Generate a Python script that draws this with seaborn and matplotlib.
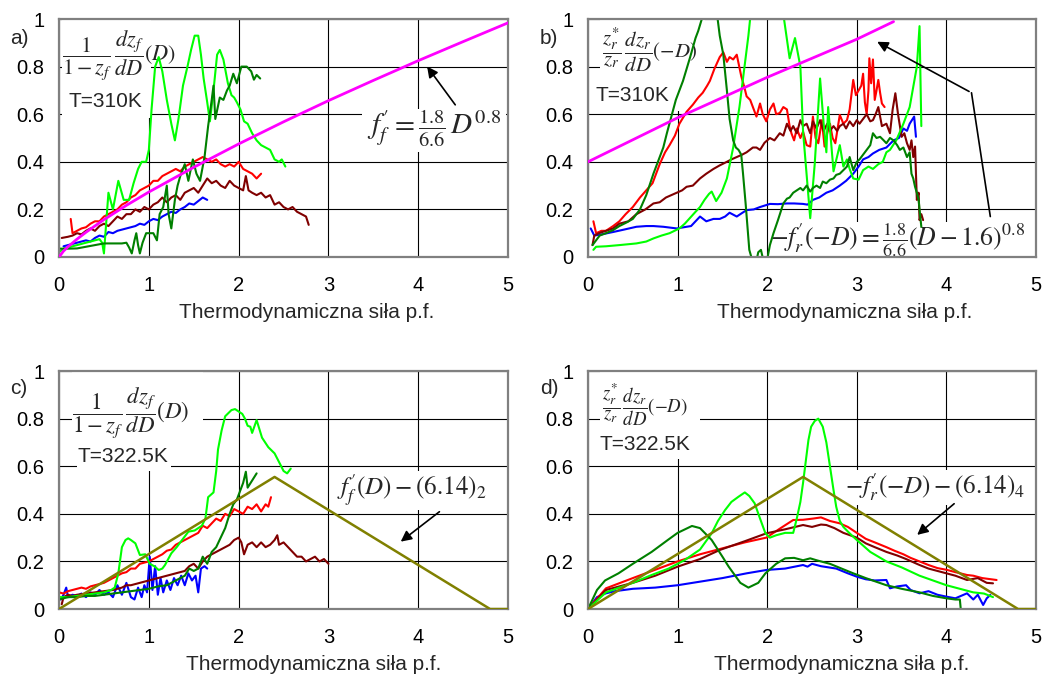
import matplotlib
matplotlib.use("Agg")
import matplotlib.pyplot as plt
from matplotlib.patches import Rectangle
import seaborn as sns

# ---------------- data: panel a (T=310K, forward) ----------------
a_blue_x = [0.05,0.1,0.15,0.2,0.25,0.3,0.35,0.4,0.45,0.5,0.55,0.6,0.65,0.7,0.75,0.8,0.85,0.9,0.95,1.0,1.05,1.1,1.15,1.2,1.25,1.3,1.35,1.4,1.45,1.5,1.55,1.6,1.65]
a_blue_y = [0.045,0.05,0.055,0.06,0.065,0.07,0.065,0.08,0.09,0.085,0.105,0.10,0.11,0.115,0.12,0.125,0.13,0.14,0.135,0.15,0.16,0.155,0.17,0.18,0.19,0.185,0.20,0.21,0.225,0.22,0.235,0.25,0.24]

a_red_x = [0.13,0.15,0.2,0.25,0.3,0.35,0.4,0.45,0.5,0.55,0.6,0.65,0.7,0.75,0.8,0.85,0.9,0.95,1.0,1.05,1.1,1.15,1.2,1.25,1.3,1.35,1.4,1.45,1.5,1.55,1.6,1.65,1.7,1.75,1.8,1.85,1.9,1.95,2.0,2.05,2.1,2.15,2.2,2.25]
a_red_y = [0.16,0.10,0.11,0.12,0.125,0.14,0.15,0.15,0.17,0.18,0.19,0.20,0.22,0.23,0.25,0.26,0.28,0.29,0.30,0.32,0.32,0.34,0.35,0.36,0.37,0.36,0.38,0.39,0.40,0.41,0.42,0.41,0.40,0.41,0.39,0.38,0.39,0.38,0.40,0.37,0.36,0.35,0.33,0.35]

a_maroon_x = [0.03,0.1,0.15,0.2,0.25,0.3,0.35,0.4,0.45,0.5,0.55,0.6,0.65,0.7,0.75,0.8,0.85,0.9,0.95,1.0,1.05,1.1,1.15,1.2,1.25,1.3,1.35,1.4,1.45,1.5,1.55,1.6,1.65,1.7,1.75,1.8,1.85,1.9,1.95,2.0,2.05,2.08,2.11,2.15,2.2,2.25,2.3,2.35,2.4,2.45,2.5,2.55,2.6,2.65,2.7,2.75,2.78]
a_maroon_y = [0.08,0.085,0.09,0.10,0.095,0.11,0.12,0.11,0.13,0.14,0.13,0.15,0.17,0.16,0.18,0.18,0.20,0.19,0.21,0.20,0.22,0.23,0.25,0.23,0.25,0.26,0.24,0.27,0.28,0.29,0.27,0.30,0.33,0.31,0.32,0.30,0.29,0.32,0.30,0.29,0.28,0.34,0.28,0.27,0.26,0.27,0.25,0.26,0.22,0.23,0.21,0.20,0.21,0.19,0.18,0.17,0.135]

a_green_x = [0.0,0.05,0.1,0.2,0.3,0.4,0.45,0.48,0.5,0.55,0.6,0.66,0.72,0.78,0.83,0.88,0.92,0.97,1.0,1.03,1.07,1.11,1.15,1.2,1.25,1.29,1.33,1.38,1.43,1.47,1.51,1.55,1.58,1.61,1.65,1.68,1.72,1.76,1.79,1.83,1.88,1.92,1.95,1.98,2.02,2.06,2.1,2.15,2.2,2.25,2.3,2.35,2.4,2.45,2.48,2.52]
a_green_y = [0.02,0.035,0.04,0.05,0.06,0.07,0.075,0.06,0.015,0.27,0.20,0.32,0.24,0.24,0.31,0.37,0.40,0.40,0.45,0.62,0.80,0.84,0.78,0.66,0.56,0.49,0.58,0.72,0.80,0.87,0.93,0.93,0.85,0.75,0.65,0.57,0.70,0.85,0.87,0.83,0.73,0.68,0.67,0.65,0.62,0.57,0.56,0.52,0.49,0.47,0.46,0.45,0.41,0.40,0.41,0.38]

a_dkgreen_x = [0.0,0.1,0.2,0.3,0.4,0.5,0.6,0.7,0.75,0.78,0.81,0.84,0.86,0.88,0.9,0.93,0.97,1.0,1.05,1.09,1.12,1.16,1.2,1.22,1.25,1.29,1.32,1.35,1.4,1.44,1.49,1.53,1.57,1.62,1.66,1.7,1.72,1.74,1.79,1.83,1.87,1.9,1.94,1.98,2.03,2.09,2.14,2.17,2.2,2.24]
a_dkgreen_y = [0.035,0.035,0.036,0.043,0.05,0.057,0.057,0.057,0.06,0.04,0.015,0.07,0.10,0.05,0.015,0.06,0.10,0.10,0.10,0.07,0.18,0.21,0.30,0.18,0.12,0.24,0.30,0.34,0.39,0.32,0.41,0.35,0.32,0.42,0.55,0.66,0.72,0.58,0.67,0.66,0.70,0.72,0.77,0.73,0.80,0.80,0.78,0.745,0.765,0.75]

a_ref_x = [0.0,0.05,0.1,0.2,0.3,0.5,0.75,1.0,1.5,2.0,2.5,3.0,3.5,4.0,4.5,5.0]
a_ref_y = [0.0,0.025,0.043,0.075,0.104,0.157,0.217,0.273,0.377,0.475,0.568,0.657,0.742,0.825,0.905,0.984]

# ---------------- data: panel b (T=310K, reverse) ----------------
b_blue_x = [0.03,0.07,0.15,0.28,0.4,0.54,0.65,0.73,0.84,0.99,1.1,1.15,1.2,1.25,1.32,1.4,1.47,1.53,1.58,1.66,1.72,1.77,1.85,1.92,2.03,2.12,2.22,2.3,2.4,2.45,2.51,2.58,2.66,2.73,2.81,2.88,2.96,3.02,3.07,3.13,3.18,3.25,3.33,3.41,3.47,3.52,3.56,3.59,3.64,3.66]
b_blue_y = [0.12,0.09,0.095,0.105,0.115,0.127,0.13,0.13,0.127,0.12,0.127,0.13,0.15,0.17,0.15,0.16,0.16,0.17,0.186,0.17,0.185,0.197,0.20,0.21,0.223,0.222,0.225,0.225,0.223,0.22,0.24,0.25,0.27,0.28,0.30,0.32,0.35,0.38,0.41,0.42,0.435,0.45,0.46,0.49,0.50,0.54,0.53,0.56,0.59,0.505]

b_red_x = [0.06,0.09,0.15,0.2,0.28,0.35,0.42,0.5,0.58,0.65,0.72,0.8,0.86,0.91,0.97,1.02,1.1,1.17,1.23,1.28,1.33,1.36,1.41,1.47,1.51,1.55,1.58,1.62,1.66,1.71,1.74,1.77,1.81,1.84,1.88,1.92,1.95,1.99,2.03,2.07,2.1,2.14,2.18,2.22,2.25,2.27,2.3,2.33,2.37,2.4,2.44,2.48,2.51,2.54,2.57,2.61,2.64,2.67,2.7,2.73,2.76,2.79,2.81,2.85,2.89,2.92,2.96,2.99,3.02,3.05,3.07,3.09,3.11,3.13,3.14,3.16,3.18,3.2,3.22,3.24,3.26,3.28,3.31]
b_red_y = [0.15,0.10,0.11,0.11,0.13,0.15,0.18,0.21,0.25,0.28,0.31,0.39,0.44,0.47,0.51,0.56,0.61,0.64,0.67,0.69,0.72,0.74,0.79,0.84,0.86,0.82,0.84,0.83,0.85,0.76,0.72,0.675,0.66,0.63,0.59,0.645,0.60,0.57,0.62,0.645,0.60,0.605,0.63,0.62,0.55,0.52,0.49,0.54,0.50,0.527,0.47,0.464,0.59,0.50,0.478,0.575,0.464,0.52,0.56,0.50,0.478,0.55,0.597,0.56,0.575,0.62,0.744,0.68,0.70,0.72,0.77,0.65,0.60,0.70,0.835,0.73,0.83,0.66,0.70,0.744,0.69,0.645,0.63]

b_maroon_x = [0.05,0.07,0.12,0.2,0.28,0.35,0.45,0.54,0.64,0.73,0.8,0.87,0.93,0.99,1.05,1.1,1.17,1.25,1.32,1.4,1.47,1.55,1.6,1.66,1.72,1.77,1.84,1.88,1.92,1.97,2.03,2.08,2.14,2.18,2.22,2.26,2.29,2.33,2.37,2.4,2.44,2.48,2.51,2.55,2.59,2.63,2.67,2.7,2.74,2.78,2.81,2.85,2.88,2.92,2.96,3.0,3.03,3.07,3.11,3.15,3.18,3.21,3.24,3.28,3.33,3.37,3.4,3.43,3.46,3.5,3.53,3.56,3.59,3.61,3.63,3.65,3.67,3.69,3.7,3.72,3.74]
b_maroon_y = [0.05,0.09,0.10,0.11,0.12,0.14,0.15,0.18,0.20,0.225,0.23,0.25,0.26,0.27,0.28,0.295,0.30,0.33,0.35,0.37,0.385,0.40,0.41,0.42,0.43,0.44,0.46,0.46,0.45,0.48,0.50,0.49,0.52,0.51,0.56,0.53,0.55,0.52,0.575,0.55,0.56,0.52,0.57,0.54,0.575,0.53,0.56,0.53,0.55,0.53,0.55,0.56,0.54,0.57,0.55,0.575,0.56,0.58,0.60,0.57,0.575,0.60,0.63,0.55,0.56,0.52,0.62,0.688,0.60,0.505,0.52,0.478,0.45,0.49,0.42,0.464,0.24,0.27,0.155,0.18,0.155]

b_green_x = [0.06,0.09,0.2,0.35,0.54,0.65,0.73,0.82,0.91,1.02,1.08,1.14,1.2,1.25,1.3,1.35,1.38,1.43,1.49,1.55,1.62,1.69,1.75,1.79,1.85,2.1,2.18,2.25,2.31,2.37,2.4,2.48,2.53,2.59,2.63,2.66,2.68,2.74,2.81,2.85,2.89,2.92,2.96,3.02,3.07,3.13,3.18,3.24,3.29,3.33,3.37,3.44,3.52,3.59,3.63,3.67,3.7,3.72]
b_green_y = [0.03,0.043,0.045,0.05,0.057,0.065,0.078,0.09,0.10,0.12,0.14,0.165,0.19,0.21,0.24,0.265,0.275,0.235,0.27,0.33,0.46,0.63,0.81,0.93,1.15,1.15,1.02,0.835,0.92,0.80,0.527,0.163,0.39,0.75,0.56,0.44,0.63,0.36,0.47,0.38,0.41,0.37,0.33,0.325,0.365,0.38,0.37,0.39,0.40,0.44,0.45,0.49,0.56,0.63,0.715,0.80,0.97,0.55]

b_dkgreen_x = [0.05,0.13,0.2,0.28,0.35,0.43,0.5,0.58,0.65,0.73,0.8,0.84,0.88,0.93,0.98,1.02,1.06,1.1,1.14,1.17,1.2,1.23,1.27,1.35,1.43,1.47,1.51,1.55,1.58,1.62,1.65,1.68,1.71,1.73,1.76,1.8,1.86,1.9,1.93,1.96,2.0,2.03,2.07,2.12,2.18,2.22,2.25,2.29,2.33,2.37,2.4,2.44,2.48,2.51,2.55,2.59,2.62,2.66,2.7,2.74,2.77,2.81,2.85,2.89,2.92,2.96,3.0,3.03,3.07,3.11,3.15,3.18,3.22,3.26,3.3,3.33,3.37,3.41,3.45,3.48,3.52,3.56,3.59,3.61,3.63,3.65,3.67,3.69,3.7,3.72]
b_dkgreen_y = [0.05,0.09,0.10,0.113,0.13,0.145,0.16,0.20,0.26,0.35,0.42,0.46,0.52,0.59,0.66,0.70,0.74,0.79,0.84,0.88,0.92,0.95,1.0,1.15,1.05,0.93,0.85,0.70,0.58,0.49,0.46,0.45,0.43,0.35,0.22,0.03,-0.05,0.02,0.03,-0.02,-0.01,0.05,0.10,0.155,0.225,0.245,0.25,0.27,0.28,0.29,0.28,0.30,0.275,0.29,0.30,0.29,0.317,0.31,0.325,0.33,0.345,0.35,0.365,0.38,0.42,0.365,0.40,0.41,0.43,0.45,0.47,0.52,0.50,0.505,0.49,0.478,0.50,0.49,0.47,0.45,0.46,0.42,0.44,0.35,0.33,0.295,0.27,0.24,0.2,0.127]

b_ref_x = [0.0,1.0,2.0,3.0,3.41]
b_ref_y = [0.40,0.585,0.755,0.915,0.989]

# ---------------- data: panel c (T=322.5K, forward) ----------------
c_blue_x = [0.02,0.05,0.08,0.1,0.15,0.2,0.25,0.3,0.35,0.4,0.45,0.5,0.55,0.6,0.65,0.7,0.75,0.8,0.84,0.88,0.92,0.95,0.98,1.01,1.04,1.07,1.1,1.13,1.16,1.2,1.24,1.28,1.32,1.36,1.4,1.44,1.48,1.52,1.55,1.58,1.62,1.65]
c_blue_y = [0.04,0.06,0.09,0.05,0.06,0.055,0.065,0.05,0.07,0.06,0.08,0.06,0.07,0.05,0.10,0.06,0.11,0.05,0.04,0.09,0.05,0.10,0.07,0.22,0.08,0.18,0.06,0.13,0.07,0.12,0.08,0.13,0.10,0.14,0.10,0.15,0.12,0.14,0.07,0.17,0.18,0.17]

c_red_x = [0.0,0.05,0.1,0.15,0.2,0.25,0.3,0.35,0.4,0.45,0.5,0.55,0.6,0.65,0.7,0.75,0.8,0.85,0.9,0.95,1.0,1.05,1.1,1.15,1.2,1.25,1.3,1.35,1.4,1.45,1.5,1.55,1.6,1.65,1.7,1.75,1.8,1.85,1.9,1.95,2.0,2.05,2.1,2.15,2.2,2.25,2.3,2.33,2.36]
c_red_y = [0.07,0.065,0.075,0.08,0.085,0.09,0.085,0.095,0.10,0.105,0.11,0.12,0.13,0.14,0.15,0.155,0.17,0.17,0.19,0.195,0.20,0.21,0.22,0.23,0.245,0.25,0.27,0.28,0.29,0.30,0.31,0.32,0.35,0.34,0.36,0.38,0.37,0.40,0.39,0.42,0.41,0.40,0.43,0.42,0.44,0.41,0.44,0.43,0.47]

c_maroon_x = [0.03,0.05,0.1,0.15,0.2,0.3,0.4,0.5,0.6,0.7,0.75,0.8,0.9,1.0,1.1,1.2,1.3,1.4,1.45,1.5,1.55,1.6,1.65,1.7,1.75,1.8,1.85,1.9,1.95,2.0,2.03,2.06,2.1,2.15,2.2,2.25,2.3,2.35,2.4,2.43,2.45,2.5,2.55,2.6,2.65,2.7,2.75,2.8,2.85,2.9,2.95,3.0]
c_maroon_y = [0.02,0.05,0.06,0.055,0.06,0.065,0.07,0.075,0.08,0.09,0.10,0.10,0.11,0.12,0.13,0.14,0.15,0.16,0.18,0.19,0.17,0.20,0.22,0.23,0.24,0.25,0.26,0.27,0.29,0.30,0.28,0.23,0.27,0.28,0.26,0.28,0.26,0.27,0.29,0.31,0.27,0.28,0.26,0.24,0.22,0.22,0.20,0.21,0.22,0.20,0.21,0.19]

c_green_x = [0.0,0.1,0.2,0.3,0.4,0.5,0.58,0.62,0.66,0.7,0.74,0.77,0.8,0.85,0.9,0.96,1.01,1.06,1.11,1.15,1.18,1.25,1.31,1.37,1.44,1.51,1.59,1.63,1.66,1.72,1.75,1.77,1.81,1.85,1.92,1.96,2.0,2.04,2.07,2.1,2.13,2.15,2.2,2.26,2.33,2.4,2.46,2.5,2.54,2.58]
c_green_y = [0.05,0.05,0.055,0.06,0.065,0.07,0.08,0.09,0.15,0.26,0.29,0.297,0.29,0.276,0.227,0.23,0.19,0.18,0.164,0.17,0.185,0.234,0.26,0.29,0.325,0.33,0.35,0.38,0.47,0.49,0.58,0.67,0.75,0.81,0.836,0.84,0.83,0.82,0.80,0.77,0.766,0.74,0.794,0.72,0.68,0.654,0.61,0.58,0.57,0.59]

c_dkgreen_x = [0.0,0.1,0.2,0.3,0.4,0.5,0.6,0.7,0.8,0.9,1.0,1.1,1.2,1.3,1.35,1.4,1.45,1.5,1.55,1.6,1.65,1.7,1.75,1.8,1.85,1.9,1.94,1.98,2.02,2.05,2.08,2.1,2.15,2.2]
c_dkgreen_y = [0.04,0.05,0.05,0.055,0.055,0.06,0.065,0.07,0.075,0.08,0.085,0.095,0.10,0.12,0.13,0.14,0.17,0.16,0.17,0.22,0.19,0.24,0.26,0.30,0.34,0.40,0.44,0.46,0.50,0.53,0.577,0.51,0.54,0.57]

c_ref_x = [0.0,2.4,4.8,5.0]
c_ref_y = [0.0,0.555,0.0,0.0]

# ---------------- data: panel d (T=322.5K, reverse) ----------------
d_blue_x = [0.0,0.1,0.2,0.3,0.5,0.75,1.0,1.25,1.5,1.77,1.99,2.2,2.4,2.45,2.5,2.6,2.77,2.9,3.0,3.1,3.2,3.33,3.37,3.45,3.55,3.6,3.7,3.8,3.9,4.0,4.1,4.23,4.3,4.35,4.41,4.45,4.49]
d_blue_y = [0.0,0.05,0.066,0.075,0.085,0.09,0.10,0.115,0.13,0.15,0.164,0.17,0.185,0.178,0.19,0.18,0.17,0.15,0.136,0.125,0.12,0.122,0.087,0.095,0.10,0.08,0.066,0.075,0.06,0.052,0.045,0.066,0.04,0.06,0.017,0.045,0.059]

d_red_x = [0.0,0.2,0.5,0.75,1.0,1.25,1.5,1.75,1.99,2.15,2.29,2.4,2.51,2.6,2.7,2.81,2.9,3.0,3.1,3.2,3.33,3.42,3.52,3.6,3.7,3.8,3.9,4.0,4.1,4.23,4.3,4.4,4.5,4.56]
d_red_y = [0.0,0.087,0.13,0.165,0.20,0.23,0.255,0.28,0.30,0.34,0.374,0.375,0.38,0.385,0.37,0.36,0.345,0.32,0.295,0.28,0.26,0.245,0.23,0.215,0.20,0.185,0.172,0.165,0.155,0.143,0.14,0.13,0.125,0.122]

d_maroon_x = [0.0,0.2,0.5,0.75,1.0,1.25,1.47,1.75,1.99,2.2,2.4,2.5,2.6,2.66,2.75,2.85,3.0,3.1,3.2,3.33,3.45,3.55,3.7,3.8,3.9,4.0,4.1,4.23,4.35,4.45,4.52]
d_maroon_y = [0.0,0.08,0.11,0.14,0.178,0.21,0.248,0.285,0.318,0.335,0.353,0.345,0.355,0.353,0.34,0.32,0.30,0.276,0.26,0.24,0.225,0.21,0.185,0.17,0.16,0.15,0.14,0.122,0.13,0.11,0.108]

d_green_x = [0.0,0.2,0.5,0.71,0.9,1.08,1.25,1.38,1.45,1.53,1.6,1.68,1.75,1.8,1.86,1.92,1.98,2.03,2.1,2.2,2.29,2.33,2.37,2.4,2.43,2.46,2.49,2.53,2.57,2.62,2.66,2.7,2.74,2.77,2.81,2.85,2.92,3.0,3.15,3.33,3.5,3.7,3.85,4.0,4.15,4.3,4.42,4.52]
d_green_y = [0.0,0.07,0.11,0.143,0.17,0.206,0.25,0.318,0.37,0.416,0.45,0.472,0.49,0.475,0.444,0.38,0.318,0.30,0.31,0.32,0.32,0.38,0.45,0.53,0.62,0.71,0.766,0.79,0.80,0.766,0.70,0.60,0.50,0.43,0.37,0.345,0.318,0.29,0.24,0.20,0.175,0.14,0.12,0.10,0.085,0.07,0.065,0.05]

d_dkgreen_x = [0.0,0.1,0.19,0.34,0.5,0.71,0.89,1.0,1.16,1.25,1.38,1.5,1.57,1.7,1.79,1.9,1.98,2.1,2.2,2.3,2.4,2.48,2.55,2.7,2.96,3.1,3.33,3.5,3.7,3.85,4.0,4.1,4.15,4.16]
d_dkgreen_y = [0.0,0.08,0.12,0.15,0.19,0.24,0.29,0.32,0.349,0.34,0.29,0.22,0.178,0.11,0.09,0.11,0.15,0.19,0.213,0.215,0.205,0.213,0.205,0.19,0.15,0.13,0.1,0.085,0.07,0.055,0.045,0.04,0.04,0.0]

d_ref_x = [0.0,2.4,4.8,5.0]
d_ref_y = [0.0,0.555,0.0,0.0]

x_ticks = [0, 1, 2, 3, 4, 5]
y_ticks = [0, 0.2, 0.4, 0.6, 0.8, 1]
y_tick_labels = ["0", "0.2", "0.4", "0.6", "0.8", "1"]
x_title = "Thermodynamiczna siła p.f."

colors = {"blue": "#0000FF", "red": "#FF0000", "maroon": "#800000",
          "green": "#00FF00", "dkgreen": "#008000"}

sns.set_style("white")
plt.rcParams["font.family"] = ["Liberation Sans", "DejaVu Sans"]
plt.rcParams["mathtext.fontset"] = "stix"

fig = plt.figure(figsize=(10.45, 6.74), dpi=100)
ax_a = fig.add_axes([0.0565, 0.6187, 0.4297, 0.3531])
ax_b = fig.add_axes([0.5627, 0.6187, 0.4287, 0.3531])
ax_c = fig.add_axes([0.0565, 0.0964, 0.4297, 0.3531])
ax_d = fig.add_axes([0.5627, 0.0964, 0.4287, 0.3531])


def style_axes(ax, label_x):
    ax.set_xlim(0, 5)
    ax.set_ylim(0, 1)
    ax.set_xticks(x_ticks)
    ax.set_yticks(y_ticks)
    ax.set_yticklabels(y_tick_labels)
    ax.set_axisbelow(True)
    ax.grid(True, color="black", lw=0.8)
    for s in ax.spines.values():
        s.set_color("#808080")
        s.set_linewidth(1.6)
    ax.tick_params(axis="both", direction="out", length=4.5, width=1.0,
                   color="#808080", labelsize=14.5, labelcolor="black")
    ax.tick_params(axis="x", pad=9)
    ax.tick_params(axis="y", pad=6)
    ax.set_xlabel(x_title, fontsize=15)
    ax.xaxis.set_label_coords(label_x, -0.235)
    ax.xaxis.label.set_va("center")
    ax.set_ylabel("")


def white_box(ax, x0, y0, x1, y1):
    ax.add_patch(Rectangle((x0, y0), x1 - x0, y1 - y0, facecolor="white",
                           edgecolor="none", zorder=1))


def draw_series(ax, prefix):
    g = globals()
    for key in ["blue", "red", "maroon", "green", "dkgreen"]:
        sns.lineplot(x=g[f"{prefix}_{key}_x"], y=g[f"{prefix}_{key}_y"], ax=ax,
                     color=colors[key], lw=1.5, sort=False, estimator=None,
                     zorder=2)


frac_f = r"$\dfrac{1}{1-z_f}\,\dfrac{dz_f}{dD}(D)$"
frac_r = r"$\dfrac{z_r^{*}}{z_r}\,\dfrac{dz_r}{dD}(-D)$"
arrow = dict(arrowstyle="-|>", color="black", lw=1.2, mutation_scale=16)

# ---- panel a
ax = ax_a
white_box(ax, 0.03, 0.585, 1.02, 1.0)
white_box(ax, 3.37, 0.44, 4.98, 0.62)
draw_series(ax, "a")
sns.lineplot(x=a_ref_x, y=a_ref_y, ax=ax, color="#FF00FF", lw=2, zorder=3)
ax.text(0.03, 0.85, frac_f, fontsize=16, ha="left", va="center", zorder=1.5)
ax.text(0.1, 0.655, "T=310K", fontsize=15, ha="left", va="center", zorder=1.5)
ax.text(3.43, 0.54, r"$f^{\prime}_{f}=\frac{1.8}{6.6}\,D^{0.8}$", fontsize=21,
        ha="left", va="center", zorder=1.5)
ax.annotate("", xy=(4.08, 0.81), xytext=(4.43, 0.63), arrowprops=arrow, zorder=6)
style_axes(ax, 0.552)

# ---- panel b
ax = ax_b
white_box(ax, 0.13, 0.615, 1.31, 1.0)
white_box(ax, 2.03, 0.005, 4.98, 0.145)
draw_series(ax, "b")
sns.lineplot(x=b_ref_x, y=b_ref_y, ax=ax, color="#FF00FF", lw=2, zorder=3)
ax.text(0.16, 0.87, frac_r, fontsize=15, ha="left", va="center", zorder=1.5)
ax.text(0.08, 0.68, "T=310K", fontsize=15, ha="left", va="center", zorder=1.5)
ax.text(2.03, 0.07, r"$-f^{\prime}_{r}(-D)=\frac{1.8}{6.6}(D-1.6)^{0.8}$",
        fontsize=18.5, ha="left", va="center", zorder=1.5)
ax.plot([4.49, 4.28], [0.17, 0.69], color="black", lw=1.2, zorder=6)
ax.annotate("", xy=(3.2, 0.91), xytext=(4.28, 0.69), arrowprops=arrow, zorder=6)
style_axes(ax, 0.574)

# ---- panel c
ax = ax_c
white_box(ax, 0.14, 0.62, 1.6, 1.0)
white_box(ax, 0.2, 0.58, 1.25, 0.68)
draw_series(ax, "c")
sns.lineplot(x=c_ref_x, y=c_ref_y, ax=ax, color="#808000", lw=1.8, sort=False,
             estimator=None, zorder=3)
ax.text(0.145, 0.82, frac_f, fontsize=16.5, ha="left", va="center", zorder=1.5)
ax.text(0.2, 0.64, "T=322.5K", fontsize=15, ha="left", va="center", zorder=1.5)
ax.text(3.1, 0.50, r"$f^{\prime}_{f}(D)-(6.14)_{2}$", fontsize=18, ha="left",
        va="center", zorder=1.5,
        bbox=dict(facecolor="white", edgecolor="none", pad=1))
ax.annotate("", xy=(3.78, 0.276), xytext=(4.26, 0.416), arrowprops=arrow, zorder=6)
style_axes(ax, 0.566)

# ---- panel d
ax = ax_d
white_box(ax, 0.13, 0.63, 1.25, 1.0)
draw_series(ax, "d")
sns.lineplot(x=d_ref_x, y=d_ref_y, ax=ax, color="#808000", lw=1.8, sort=False,
             estimator=None, zorder=3)
ax.text(0.16, 0.857, frac_r, fontsize=13.5, ha="left", va="center", zorder=1.5)
ax.text(0.13, 0.69, "T=322.5K", fontsize=15, ha="left", va="center", zorder=1.5)
ax.text(2.87, 0.51, r"$-f^{\prime}_{r}(-D)-(6.14)_{4}$", fontsize=18, ha="left",
        va="center", zorder=1.5,
        bbox=dict(facecolor="white", edgecolor="none", pad=1))
ax.annotate("", xy=(3.65, 0.304), xytext=(4.11, 0.45), arrowprops=arrow, zorder=6)
style_axes(ax, 0.567)

for lab, (fx, fy) in zip(["a)", "b)", "c)", "d)"],
                         [(0.0096, 0.9436), (0.5167, 0.9436),
                          (0.0096, 0.4243), (0.5167, 0.4243)]):
    fig.text(fx, fy, lab, fontsize=15, ha="left", va="center")

for ax in [ax_a, ax_b, ax_c, ax_d]:
    leg = ax.get_legend()
    if leg is not None:
        leg.remove()

fig.savefig("out.png", dpi=100)
